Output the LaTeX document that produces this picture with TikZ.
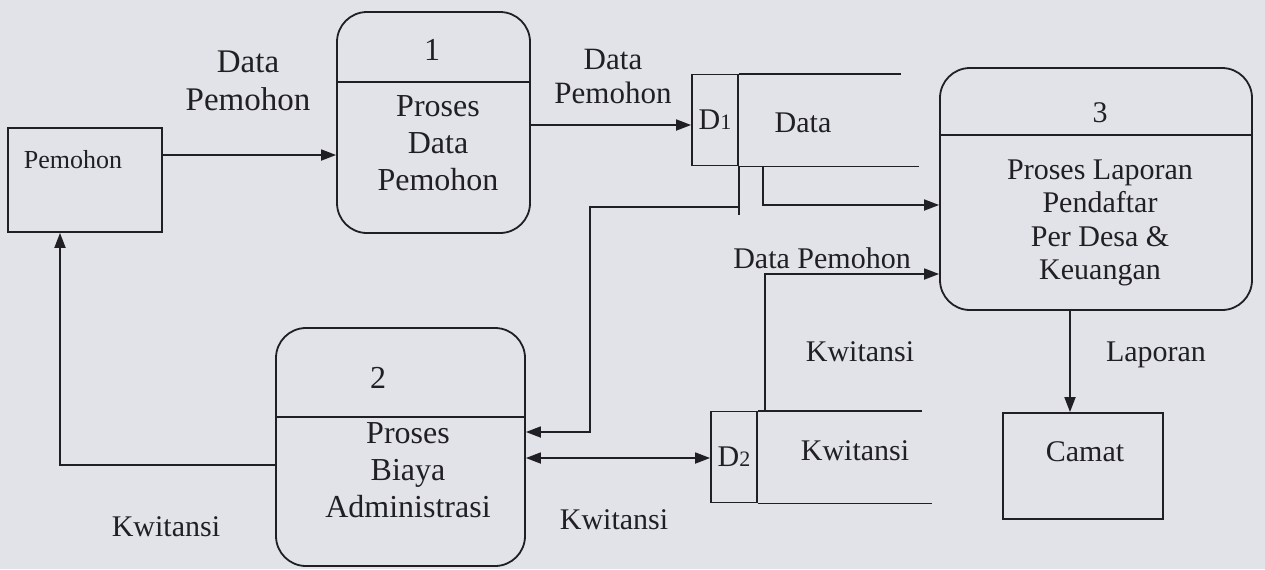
\documentclass[tikz,border=0pt]{standalone}
\usepackage{fontspec}
\setmainfont{Liberation Serif}
\usetikzlibrary{arrows.meta,calc}
\definecolor{paper}{RGB}{226,227,233}
\definecolor{ink}{RGB}{32,32,36}

\begin{document}
\begin{tikzpicture}[x=0.5pt,y=-0.5pt,
  every node/.style={font=\fontsize{15}{18.5}\selectfont, text=ink},
  txt/.style={align=center, inner sep=0pt},
  big/.style={font=\fontsize{16}{18.5}\selectfont},
  small/.style={font=\fontsize{13}{16}\selectfont},
  procbox/.style={draw=ink, line width=0.9pt, rounded corners=15pt, inner sep=0pt},
  entity/.style={draw=ink, line width=0.9pt, inner sep=0pt},
  storeid/.style={draw=ink, line width=0.9pt, inner sep=0pt, minimum width=23pt, minimum height=45.5pt},
  line/.style={draw=ink, line width=0.9pt},
  tip/.tip={Triangle[length=7.5pt,width=5.5pt]},
  flow/.style={line, -tip},
]
% page
\fill[paper] (0,0) rectangle (1265,569);
\useasboundingbox (0,0) rectangle (1265,569);

% external entities
\node[entity, minimum width=77pt, minimum height=52pt] (pemohon) at (85,180) {};
\node[txt, small] (pemohonlbl) at (73,160) {Pemohon};
\node[entity, minimum width=80pt, minimum height=53pt] (camat) at (1083,466) {};
\node[txt] (camatlbl) at (1085,452) {Camat};

% processes
\node[procbox, minimum width=96.5pt, minimum height=110.5pt] (p1) at (433.5,122.5) {};
\draw[line] (p1.west |- 0,82) -- (p1.east |- 0,82);
\node[txt, big] (p1num) at (432,50) {1};
\node[txt, big] (p1txt) at (438,143) {Proses\\Data\\Pemohon};

\node[procbox, minimum width=124.5pt, minimum height=119pt] (p2) at (400.5,447) {};
\draw[line] (p2.west |- 0,417) -- (p2.east |- 0,417);
\node[txt, big] (p2num) at (378,378) {2};
\node[txt, big] (p2txt) at (408,470) {Proses\\Biaya\\Administrasi};

\node[procbox, minimum width=156pt, minimum height=121pt] (p3) at (1096,189) {};
\draw[line] (p3.west |- 0,135) -- (p3.east |- 0,135);
\node[txt] (p3num) at (1100,113) {3};
\node[txt, font=\fontsize{15}{16.8}\selectfont] (p3txt) at (1100,223) {Proses Laporan\\Pendaftar\\Per Desa \&\\Keuangan};

% data stores
\node[storeid] (d1) at (715,120) {D{\fontsize{11}{11}\selectfont 1}};
\draw[line] (d1.north east) -- ++(162,0);
\draw[line] (d1.south east) -- ++(180,0);
\node[txt] (d1name) at (803,123) {Data};

\node[storeid] (d2) at (734,457) {D{\fontsize{11}{11}\selectfont 2}};
\draw[line] (d2.north east) -- ++(164,0);
\draw[line] (d2.south east) -- ++(174,0);
\node[txt] (d2name) at (855,451) {Kwitansi};

% data flows
\draw[flow] (pemohon.east |- 0,155) -- (p1.west |- 0,155);
\node[txt, font=\fontsize{16.5}{19}\selectfont] (f1) at (248,81) {Data\\Pemohon};

\draw[flow] (p1.east |- 0,125) -- (d1.west |- 0,125);
\node[txt, font=\fontsize{15.5}{17}\selectfont] (f2) at (613,76) {Data\\Pemohon};

\draw[line] (d1.south east) -- ++(0,49);
\draw[flow] (d1.south east) |- (590,207) |- (p2.east |- 0,432);

\draw[flow] ($(d1.south east)+(24,0)$) |- (p3.west |- 0,205);

\draw[flow] ($(d2.north east)+(7,0)$) |- (p3.west |- 0,274);
\node[txt] (f5) at (822,258) {Data Pemohon};
\node[txt] (f6) at (860,352) {Kwitansi};

\draw[flow] (p3.south -| 1070,0) -- (camat.north -| 1070,0);
\node[txt] (f7) at (1156,355) {Laporan};

\draw[line, tip-tip] (p2.east |- 0,458) -- (d2.west |- 0,458);
\node[txt] (f8) at (614,520) {Kwitansi};

\draw[flow] (p2.west |- 0,465) -| (pemohon.south -| 60,0);
\node[txt] (f9) at (166,527) {Kwitansi};
\end{tikzpicture}
\end{document}
